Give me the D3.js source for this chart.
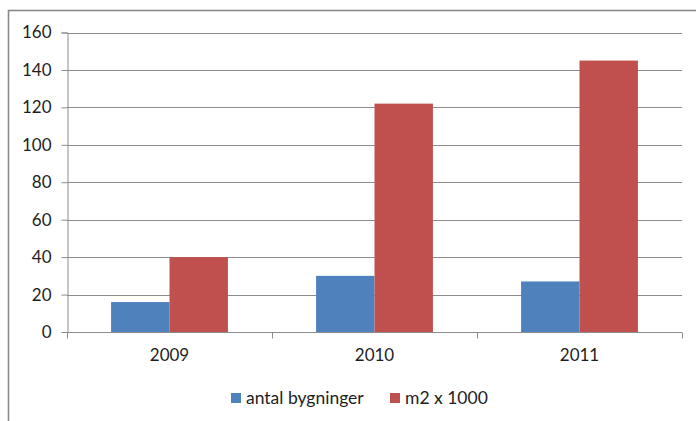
<!DOCTYPE html>
<html><head><meta charset="utf-8">
<script src="https://cdn.jsdelivr.net/npm/d3@7"></script>
<style>
html,body{margin:0;padding:0;background:#fff;}
svg{display:block;}
text{font-family:Lato,"Open Sans",sans-serif;fill:#1e1e1e;}
</style></head>
<body>
<svg id="chart" width="696" height="421"></svg>
<script>
const categories = ["2009", "2010", "2011"];
const seriesNames = ["antal bygninger", "m2 x 1000"];
const antalBygninger = [16, 30, 27];
const m2x1000 = [40, 122, 145];
const yTicks = [0, 20, 40, 60, 80, 100, 120, 140, 160];
const colors = ["#4F81BD", "#C0504D"];

const svg = d3.select("#chart");
const W = 696, H = 421;
const m = {left: 67, right: 14, top: 32.5, bottom: 89};
const plotL = m.left, plotR = W - m.right, plotT = m.top, plotB = H - m.bottom;

// outer frame
svg.append("rect").attr("x", 8.5).attr("y", 10.5).attr("width", 800).attr("height", 600)
  .attr("fill", "none").attr("stroke", "#8a8a8a").attr("stroke-width", 1.6);

const x0 = d3.scaleBand().domain(categories).range([plotL, plotR]).paddingInner(0.43).paddingOuter(0.215);
const x1 = d3.scaleBand().domain(seriesNames).range([0, x0.bandwidth()]);
const y = d3.scaleLinear().domain([0, 160]).range([plotB, plotT]);

// gridlines
svg.append("g").selectAll("line").data(yTicks.filter(d => d > 0)).join("line")
  .attr("x1", plotL).attr("x2", plotR)
  .attr("y1", d => Math.round(y(d)) + 0.5).attr("y2", d => Math.round(y(d)) + 0.5)
  .attr("stroke", "#8c8c8c").attr("stroke-width", 1);

// bars
const data = categories.map((c, i) => ({cat: c, vals: [antalBygninger[i], m2x1000[i]]}));
const groups = svg.append("g").selectAll("g").data(data).join("g")
  .attr("transform", d => `translate(${x0(d.cat)},0)`);
groups.selectAll("rect").data(d => d.vals.map((v, j) => ({name: seriesNames[j], v, j}))).join("rect")
  .attr("x", d => x1(d.name)).attr("width", x1.bandwidth())
  .attr("y", d => y(d.v)).attr("height", d => y(0) - y(d.v))
  .attr("fill", d => colors[d.j]);

// y axis
const yAxis = d3.axisLeft(y).tickValues(yTicks).tickSize(6).tickPadding(10).tickFormat(d3.format("d"));
const ga = svg.append("g").attr("transform", `translate(${plotL + 0.5},0)`).call(yAxis);
ga.select(".domain").attr("stroke", "#8c8c8c");
ga.selectAll(".tick line").attr("stroke", "#8c8c8c");
ga.selectAll(".tick text").style("font-size", "17px").style("font-family", "Lato, 'Open Sans', sans-serif").attr("fill", "#1e1e1e");

// x axis
const xAxis = d3.axisBottom(x0).tickSize(0).tickPadding(16);
const gx = svg.append("g").attr("transform", `translate(0,${Math.round(plotB) + 0.5})`).call(xAxis);
gx.select(".domain").remove();
gx.append("line").attr("x1", plotL).attr("x2", plotR).attr("stroke", "#8c8c8c");
gx.selectAll(".tick text").style("font-size", "17px").style("font-family", "Lato, 'Open Sans', sans-serif").attr("fill", "#1e1e1e");
// category boundary ticks
const bounds = d3.range(categories.length + 1).map(i => plotL + i * (plotR - plotL) / categories.length);
gx.selectAll(".bt").data(bounds).join("line").attr("class", "bt")
  .attr("x1", d => Math.round(d) + 0.5).attr("x2", d => Math.round(d) + 0.5)
  .attr("y1", 0).attr("y2", 6).attr("stroke", "#8c8c8c");

// legend
const legendX = [231, 390];
const lg = svg.append("g").selectAll("g").data(seriesNames).join("g")
  .attr("transform", (d, i) => `translate(${legendX[i]},393)`);
lg.append("rect").attr("width", 10).attr("height", 10).attr("fill", (d, i) => colors[i]);
lg.append("text").attr("x", 15).attr("y", 10.5).style("font-size", "17.5px").text(d => d);
</script>
</body></html>
